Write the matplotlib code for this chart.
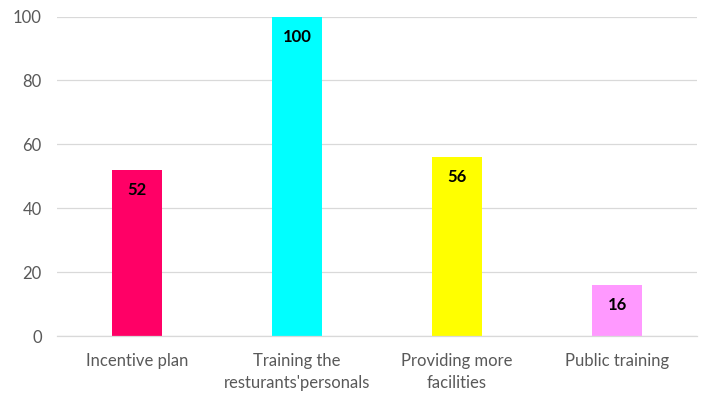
import matplotlib.pyplot as plt

categories = ["Incentive plan", "Training the\nresturants'personals",
              "Providing more\nfacilities", "Public training"]
values = [52, 100, 56, 16]
bar_colors = ["#FF0066", "#00FFFF", "#FFFF00", "#FF99FF"]
yticks = [0, 20, 40, 60, 80, 100]

plt.rcParams['font.family'] = ['Lato', 'DejaVu Sans']

fig = plt.figure(figsize=(7.01, 3.94), dpi=100)
ax = fig.add_axes([0.0813, 0.1472, 0.9130, 0.8108])

x = list(range(len(categories)))
bars = ax.bar(x, values, width=0.3125, color=bar_colors, zorder=2)

# value labels sit just inside the top of each bar
for rect, v in zip(bars, values):
    ax.annotate(f"{v}", (rect.get_x() + rect.get_width() / 2, v),
                xytext=(0, -20), textcoords="offset pixels",
                ha="center", va="center", fontsize=12, fontweight="bold",
                color="black", zorder=3)

ax.set_xlim(-0.5, len(categories) - 0.5)
ax.set_ylim(0, 100)
ax.set_yticks(yticks)
ax.set_xticks(x)
ax.set_xticklabels(categories, fontsize=12, color="#595959", linespacing=1.45)
ax.tick_params(axis="y", labelsize=12, labelcolor="#595959", length=0, pad=11)
ax.tick_params(axis="x", length=0, pad=12)

ax.grid(axis="y", color="#D9D9D9", linewidth=0.9, zorder=0)
for s in ["top", "right", "left"]:
    ax.spines[s].set_visible(False)
ax.spines["bottom"].set_color("#D9D9D9")
ax.spines["bottom"].set_linewidth(0.9)

fig.savefig("out.png", dpi=100)
